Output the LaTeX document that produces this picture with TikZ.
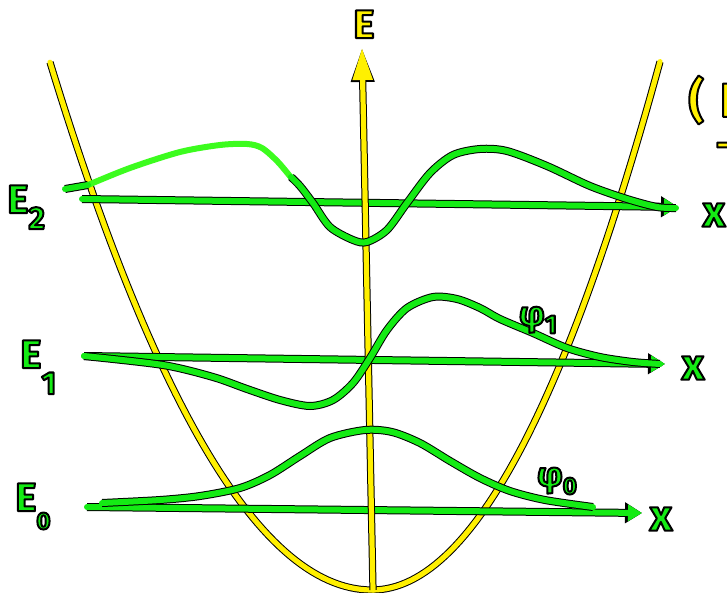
\documentclass[tikz,border=0pt]{standalone}
\usepackage{fontspec}
\setmainfont{Fira Sans}
\usetikzlibrary{arrows.meta}
\definecolor{chalkyellow}{RGB}{255,240,0}
\definecolor{chalkgreen}{RGB}{20,235,20}
\definecolor{freshgreen}{RGB}{60,252,30}
\newcommand\edged[2]{%
  \textcolor{#1}{\special{pdf:literal direct 0 G 1 w 1 j 2 Tr}#2\special{pdf:literal direct 0 Tr}}}

\begin{document}
\begin{tikzpicture}[x=0.5pt,y=-0.5pt,
  well/.style={draw=chalkyellow,line width=2.6pt,line cap=round,line join=round,
    preaction={draw=black,line width=3.6pt}},
  energyaxis/.style={draw=chalkyellow,line width=2.6pt,line cap=round,
    -{Triangle[length=16pt,width=9.5pt]},
    preaction={draw=black,line width=3.6pt,-{Triangle[length=17pt,width=11pt]}}},
  wave/.style={draw=chalkgreen,line width=3pt,line cap=round,line join=round,
    preaction={draw=black,line width=4pt}},
  level/.style={draw=chalkgreen,line width=3pt,line cap=round,
    -{Triangle[length=7pt,width=8pt]},
    preaction={draw=black,line width=4pt,-{Triangle[length=8.5pt,width=10pt]}}},
  lbl/.style={inner sep=0pt,font=\bfseries\fontsize{20}{24}\selectfont}]
\useasboundingbox (0,0) rectangle (727,593);
\clip (0,0) rectangle (727,593);
\fill[white] (0,0) rectangle (727,593);

\coordinate (Efoot) at (373,590);
\coordinate (Etip) at (362,48);
\coordinate (E2from) at (82,199);
\coordinate (E2to) at (678,207);
\coordinate (E1from) at (84,356);
\coordinate (E1to) at (665,364);
\coordinate (E0from) at (87,507);
\coordinate (E0to) at (642,513);

\draw[well] plot[domain=50:372,samples=60] (\x,{590-50.9*((\x-372)/100)^2})
  -- plot[domain=372:660,samples=60] (\x,{590-63.7*((\x-372)/100)^2});

\draw[level] (E2from) -- (E2to);
\draw[level] (E1from) -- (E1to);
\draw[level] (E0from) -- (E0to);

\draw[energyaxis] (Efoot) -- (Etip);

\draw[freshgreen,line width=3pt,line cap=round] plot[smooth] coordinates
  {(88,185) (130,168) (180,152) (220,145) (247,144) (262,148) (278,162) (293,180)};
\draw[wave] (65,189) -- (88,185);
\draw[wave] plot[smooth] coordinates {(291,177) (300,186) (313,203) (330,227)
  (353,240) (367,242) (387,230) (407,203) (430,173) (453,155) (480,149) (507,151)
  (547,166) (590,186) (627,199) (657,207) (676,208)};
\draw[wave] plot[smooth] coordinates {(84,356) (163,365) (213,377) (247,389)
  (280,400) (310,406) (333,400) (353,383) (370,358) (387,330) (407,308) (433,297)
  (457,299) (480,308) (500,319) (533,333) (567,348) (600,357) (633,362) (660,364)};
\draw[wave] plot[smooth] coordinates {(102,503) (160,500) (200,496) (240,488)
  (270,475) (300,456) (330,438) (365,430) (392,432) (420,443) (450,461) (480,478)
  (510,491) (545,500) (593,507)};

\node[lbl,anchor=north west] (Elbl) at (353,10) {\edged{chalkyellow}{E}};
\node[lbl,anchor=north west] (E2lbl) at (7,185)
  {\edged{chalkgreen}{E\raisebox{-8pt}{\fontsize{16}{16}\selectfont 2}}};
\node[lbl,anchor=north west] (E1lbl) at (20,340)
  {\edged{chalkgreen}{E\raisebox{-13pt}{\fontsize{16}{16}\selectfont 1}}};
\node[lbl,anchor=north west] (E0lbl) at (15,483)
  {\edged{chalkgreen}{E\raisebox{-9pt}{\fontsize{12}{12}\selectfont 0}}};
\node[lbl,font=\bfseries\fontsize{22}{24}\selectfont] (x2lbl) at (714,215) {\edged{chalkgreen}{x}};
\node[lbl,font=\bfseries\fontsize{22}{24}\selectfont] (x1lbl) at (693,368) {\edged{chalkgreen}{x}};
\node[lbl,font=\bfseries\fontsize{22}{24}\selectfont] (x0lbl) at (661,519) {\edged{chalkgreen}{x}};
\node[lbl,font=\bfseries\fontsize{17}{20}\selectfont] (phi1lbl) at (538,320)
  {\edged{chalkgreen}{φ\raisebox{-4pt}{\fontsize{13}{13}\selectfont 1}}};
\node[lbl,font=\bfseries\fontsize{17}{20}\selectfont] (phi0lbl) at (557,481)
  {\edged{chalkgreen}{φ\raisebox{-4pt}{\fontsize{12}{12}\selectfont 0}}};
\node[lbl,font=\bfseries\fontsize{24}{26}\selectfont,anchor=west] (notelbl) at (688,100)
  {\edged{chalkyellow}{(\kern8pt E}};
\node[lbl,anchor=west] (dashlbl) at (716,150) {\edged{chalkyellow}{–}};
\end{tikzpicture}
\end{document}
